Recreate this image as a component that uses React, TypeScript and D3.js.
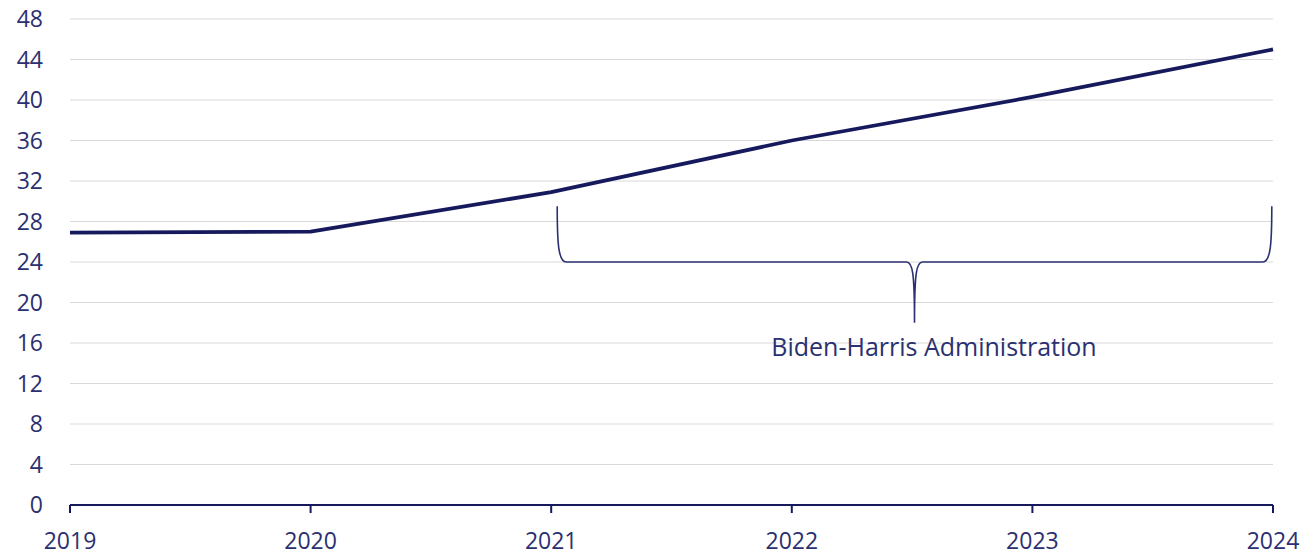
import React from "react";
import * as d3 from "d3";

const years = [2019, 2020, 2021, 2022, 2023, 2024];
const values = [26.9, 27.0, 30.9, 36.0, 40.3, 45.0];
const yTicks = [0, 4, 8, 12, 16, 20, 24, 28, 32, 36, 40, 44, 48];
const braceLabel = "Biden-Harris Administration";
// brace spans from just after 2021 to 2024, tips at y ≈ 29.5, bar at 24, point at 18
const braceFrom = 2021.025;
const braceTo = 2023.995;
const braceTop = 29.5;
const braceBar = 24;
const bracePoint = 18;

const W = 1301;
const H = 556;
const navy = "#161a5c";
const textCol = "#2b3070";
const font = "'Open Sans', 'Noto Sans', sans-serif";

export default function App() {
  const x = d3.scaleLinear().domain([2019, 2024]).range([70, 1273]);
  const y = d3.scaleLinear().domain([0, 48]).range([505, 19]);
  const line = d3
    .line<number>()
    .x((_, i) => x(years[i]))
    .y((d) => y(d));

  const xl = x(braceFrom);
  const xr = x(braceTo);
  const xm = (xl + xr) / 2;
  const yt = y(braceTop);
  const yb = y(braceBar);
  const yp = y(bracePoint);
  const r = 9;
  const bracePath = [
    `M${xl},${yt}`,
    `C${xl},${yb - 20} ${xl + 1},${yb} ${xl + r},${yb}`,
    `L${xm - 8},${yb}`,
    `C${xm - 2},${yb} ${xm},${yb + 10} ${xm},${yp}`,
    `C${xm},${yb + 10} ${xm + 2},${yb} ${xm + 8},${yb}`,
    `L${xr - r},${yb}`,
    `C${xr - 1},${yb} ${xr},${yb - 20} ${xr},${yt}`,
  ].join(" ");

  return (
    <svg width={W} height={H} style={{ position: "absolute", left: 0, top: 0, background: "#fff" }}>
      <rect width={W} height={H} fill="#fff" />
      {yTicks.map((t) => (
        <g key={t}>
          {t > 0 && (
            <line x1={70} x2={1273} y1={y(t)} y2={y(t)} stroke="#d9d9d9" strokeWidth={1} />
          )}
          <text
            x={43}
            y={y(t)}
            dy="0.35em"
            textAnchor="end"
            fontFamily={font}
            fontSize={23}
            fill={textCol}
          >
            {t}
          </text>
        </g>
      ))}
      <line x1={70} x2={1273} y1={505} y2={505} stroke={navy} strokeWidth={2} />
      {years.map((yr) => (
        <g key={yr}>
          <line x1={x(yr)} x2={x(yr)} y1={505} y2={513} stroke={navy} strokeWidth={2} />
          <text
            x={x(yr)}
            y={549}
            textAnchor="middle"
            fontFamily={font}
            fontSize={23}
            fill={textCol}
          >
            {yr}
          </text>
        </g>
      ))}
      <path d={line(values) || ""} fill="none" stroke={navy} strokeWidth={3.8} strokeLinejoin="round" />
      <path d={bracePath} fill="none" stroke={textCol} strokeWidth={1.6} />
      <text
        x={934}
        y={356}
        textAnchor="middle"
        fontFamily={font}
        fontSize={25}
        fill={textCol}
      >
        {braceLabel}
      </text>
    </svg>
  );
}
